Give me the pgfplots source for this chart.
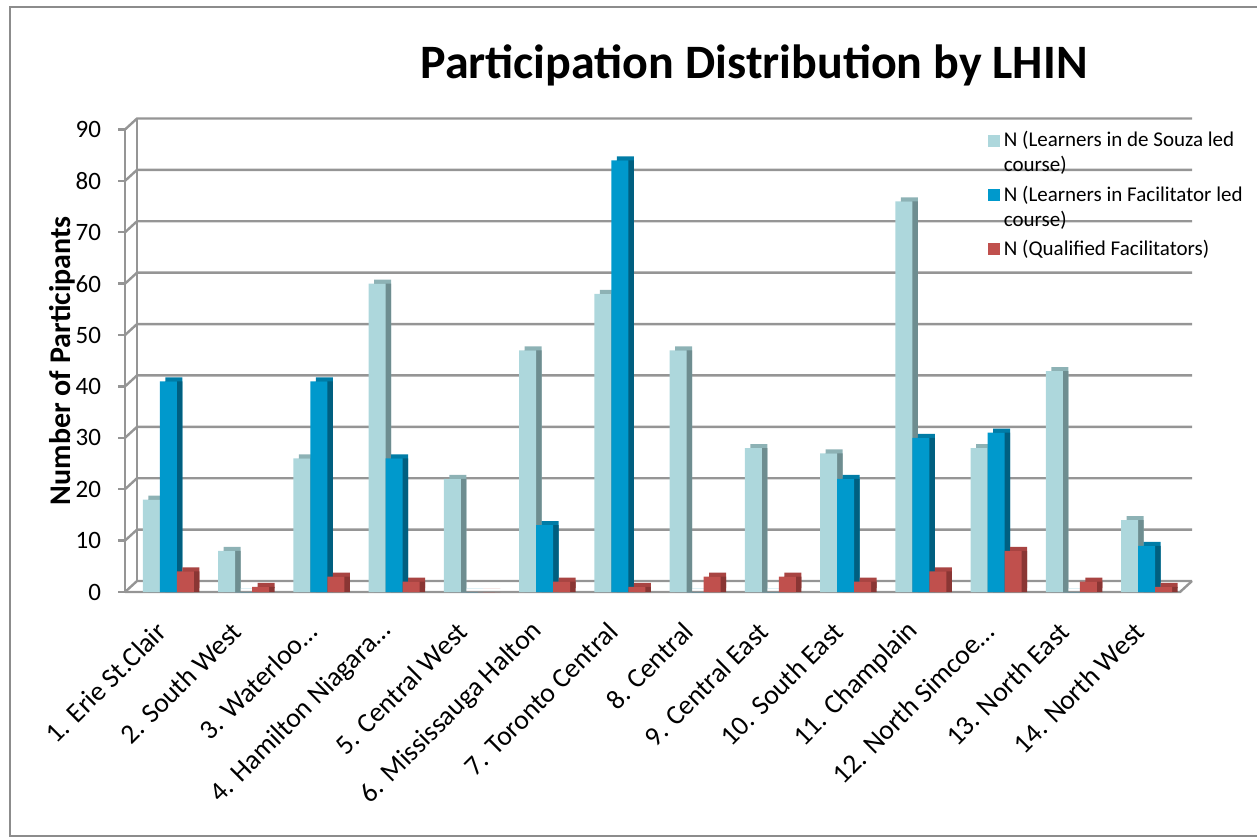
\documentclass[border=0pt]{standalone}
\usepackage{pgfplots}
\pgfplotsset{compat=1.18}
\usepackage{pgfplotstable}
\usepackage{fontspec}
\setmainfont{Carlito}
\definecolor{lightc}{HTML}{ADD7DC}
\definecolor{lighttop}{HTML}{8DB2B5}
\definecolor{lightside}{HTML}{6E8D90}
\definecolor{bluec}{HTML}{0099CC}
\definecolor{bluetop}{HTML}{007CA6}
\definecolor{blueside}{HTML}{005F80}
\definecolor{redc}{HTML}{C0504D}
\definecolor{redtop}{HTML}{A84442}
\definecolor{redside}{HTML}{8A3634}
\definecolor{gridc}{HTML}{959595}
\definecolor{framec}{HTML}{8C8C8C}

\pgfplotstableread{
x a b c
0 18 41 4
1 8 0 1
2 26 41 3
3 60 26 2
4 22 0 0
5 47 13 2
6 58 84 1
7 47 0 3
8 28 0 3
9 27 22 2
10 76 30 4
11 28 31 8
12 43 0 2
13 14 9 1
}\data

\begin{document}
\begin{tikzpicture}
\draw[framec, line width=1pt] (5pt,0.5pt) rectangle (640pt,415pt);
\node[font=\fontsize{24}{28}\selectfont\bfseries] at (377pt,386pt) {Participation Distribution by LHIN};
\begin{axis}[
  set layers,
  at={(62.5pt,122.5pt)}, anchor=south west,
  scale only axis, width=527.5pt, height=231.25pt,
  xmin=-0.578, xmax=13.445, ymin=0, ymax=90,
  clip=false,
  axis line style={draw=none},
  ybar, bar width=8.5pt,
  xtick=data,
  xticklabels={{1. Erie St.Clair}, {2. South West}, {3. Waterloo…}, {4. Hamilton Niagara…}, {5. Central West}, {6. Mississauga Halton}, {7. Toronto Central}, {8. Central}, {9. Central East}, {10. South East}, {11. Champlain}, {12. North Simcoe…}, {13. North East}, {14. North West}},
  xticklabel style={xshift=-1pt, yshift=-11.5pt, rotate=45, anchor=east, font=\fontsize{13.8}{17}\selectfont},
  major x tick style={draw=none},
  ytick={0,10,...,90},
  ytick pos=left,
  tick align=outside,
  major tick length=3.5pt,
  major y tick style={draw=gridc, line width=1.2pt},
  yticklabel style={font=\fontsize{12.5}{14}\selectfont},
  yticklabel shift=5pt,
  /pgf/number format/assume math mode=true,
  every axis y label/.style={at={(rel axis cs:-0.0597,0.5)}, rotate=90, anchor=center},
  ylabel={\fontsize{15}{17}\selectfont\bfseries Number of Participants},
  legend image code/.code={\fill[#1] (0pt,-3pt) rectangle (6pt,3pt);},
  legend style={at={(rel axis cs:0.8175,1.005)}, anchor=north west, draw=none, fill=none,
    font=\fontsize{10.5}{12.5}\selectfont, inner sep=0pt,
    cells={anchor=west, align=left}, row sep=1.5pt},
  legend cell align=left,
]
\begin{pgfonlayer}{axis background}
  \pgfplotsinvokeforeach{0,10,...,90}{
    \draw[gridc, line width=1.2pt] (axis cs:-0.578,#1) -- ++(6pt,5.5pt) -- ([shift={(6pt,5.5pt)}]axis cs:13.445,#1);
  }
  \draw[gridc, line width=1.2pt] ([shift={(6pt,5.5pt)}]axis cs:-0.578,0) -- ([shift={(6pt,5.5pt)}]axis cs:-0.578,90);
  \draw[gridc, line width=1.2pt] (axis cs:-0.578,0) -- (axis cs:-0.578,90);
  \draw[gridc, line width=1.2pt] (axis cs:-0.578,0) -- (axis cs:13.445,0) -- ++(6pt,5.5pt);
\end{pgfonlayer}
% light series
\addplot[forget plot, fill=lighttop, draw=none, bar shift=-5.75pt, yshift=2pt] table[x=x,y=a]{\data};
\addplot[forget plot, fill=lightside, draw=none, bar shift=-5.75pt] table[x=x,y=a]{\data};
\addplot[fill=lightc, draw=none, bar shift=-8.5pt,
  legend image code/.code={\fill[lightc] (0pt,3.25pt) rectangle (6pt,9.25pt);}] table[x=x,y=a]{\data};
\addlegendentry{N (Learners in de Souza led\\course)}
% blue series
\addplot[forget plot, fill=bluetop, draw=none, bar shift=2.75pt, yshift=2pt] table[x=x,y=b]{\data};
\addplot[forget plot, fill=blueside, draw=none, bar shift=2.75pt] table[x=x,y=b]{\data};
\addplot[fill=bluec, draw=none, bar shift=0pt,
  legend image code/.code={\fill[bluec] (0pt,3.25pt) rectangle (6pt,9.25pt);}] table[x=x,y=b]{\data};
\addlegendentry{N (Learners in Facilitator led\\course)}
% red series
\addplot[forget plot, fill=redtop, draw=none, bar shift=11.25pt, yshift=2pt] table[x=x,y=c]{\data};
\addplot[forget plot, fill=redside, draw=none, bar shift=11.25pt] table[x=x,y=c]{\data};
\addplot[fill=redc, draw=none, bar shift=8.5pt,
  legend image code/.code={\fill[redc] (0pt,-3pt) rectangle (6pt,3pt);}] table[x=x,y=c]{\data};
\addlegendentry{N (Qualified Facilitators)}
\end{axis}
\pgfresetboundingbox
\useasboundingbox (0pt,0pt) rectangle (628.5pt,418.5pt);
\end{tikzpicture}
\end{document}
